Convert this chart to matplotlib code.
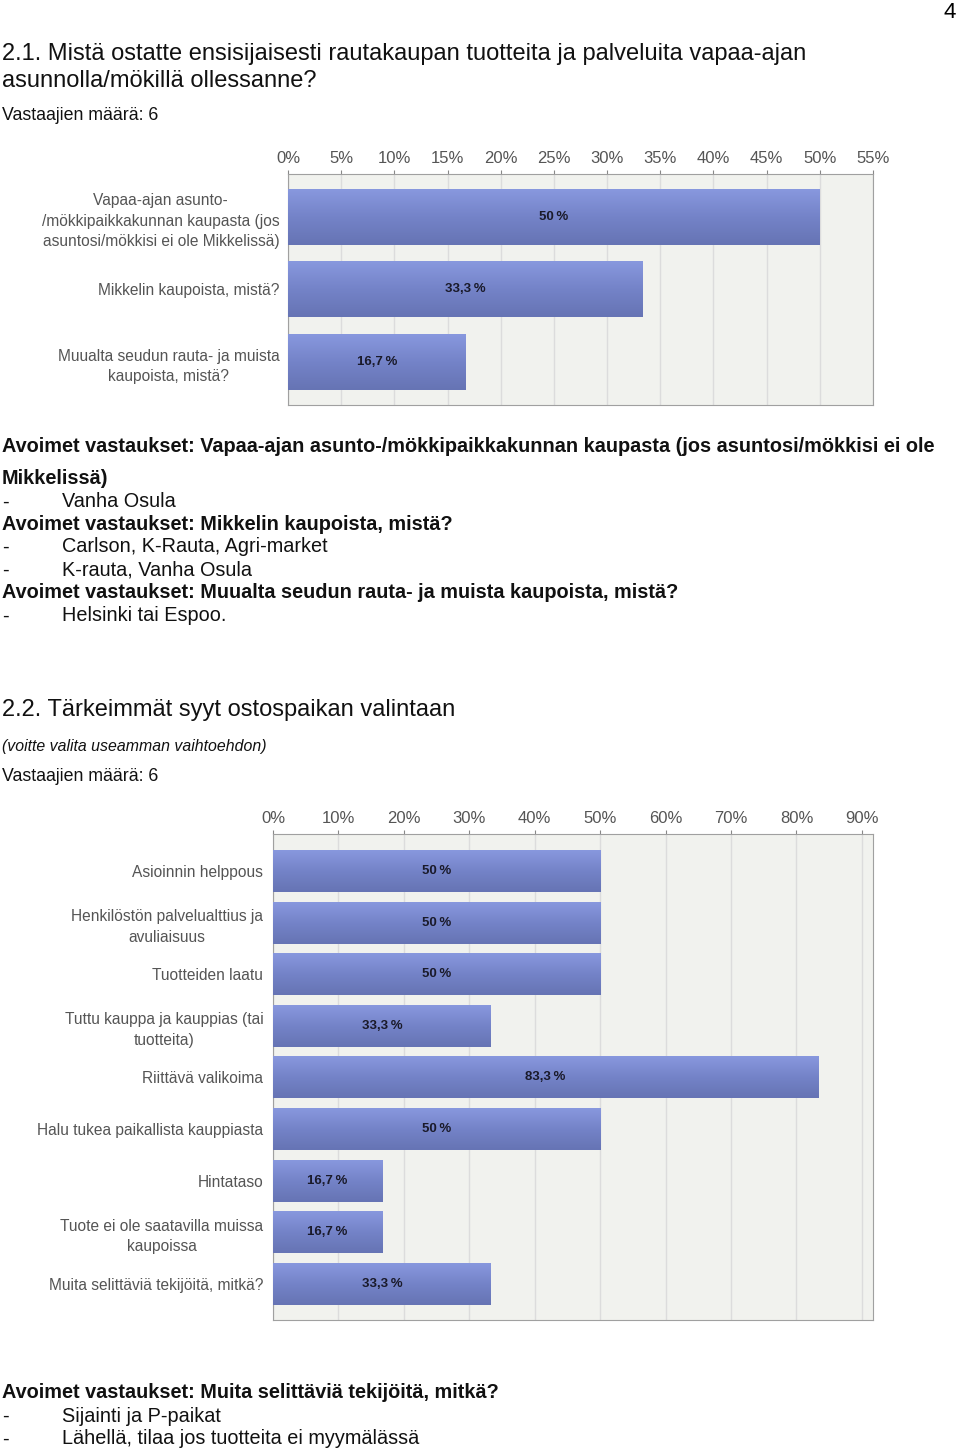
import matplotlib
matplotlib.use("Agg")
import matplotlib.pyplot as plt
import numpy as np
from matplotlib.colors import LinearSegmentedColormap

plt.rcParams['font.family'] = ['Liberation Sans', 'DejaVu Sans']

# Datos
kat1 = ["Vapaa-ajan asunto-\n/mökkipaikkakunnan kaupasta (jos\nasuntosi/mökkisi ei ole Mikkelissä)",
        "Mikkelin kaupoista, mistä?",
        "Muualta seudun rauta- ja muista\nkaupoista, mistä?"]
arvot1 = [50, 33.3, 16.7]
ticks1 = [0, 5, 10, 15, 20, 25, 30, 35, 40, 45, 50, 55]

kat2 = ["Asioinnin helppous",
        "Henkilöstön palvelualttius ja\navuliaisuus",
        "Tuotteiden laatu",
        "Tuttu kauppa ja kauppias (tai\ntuotteita)",
        "Riittävä valikoima",
        "Halu tukea paikallista kauppiasta",
        "Hintataso",
        "Tuote ei ole saatavilla muissa\nkaupoissa",
        "Muita selittäviä tekijöitä, mitkä?"]
arvot2 = [50, 50, 50, 33.3, 83.3, 50, 16.7, 16.7, 33.3]
ticks2 = [0, 10, 20, 30, 40, 50, 60, 70, 80, 90]

W, H = 960, 1451
fig = plt.figure(figsize=(W / 100, H / 100), dpi=100)

cmap = LinearSegmentedColormap.from_list("palkki", ["#8898de", "#7483c8", "#6674b4"])
grad = np.linspace(0, 1, 64).reshape(-1, 1)


def teksti(x, y, s, **kw):
    fig.text(x / W, 1 - y / H, s, va='center', ha='left', color='#111111', **kw)


def kaavio(rect, kategoriat, arvot, ticks, xmax, ylim, korkeus, pad):
    ax = fig.add_axes(rect)
    ax.set_facecolor('#f1f2ee')
    y = np.arange(len(kategoriat))
    palkit = ax.barh(y, arvot, height=korkeus, color='#7886cc', zorder=2)
    for p in palkit:
        x0, y0, w, h = p.get_x(), p.get_y(), p.get_width(), p.get_height()
        ax.imshow(grad, extent=(x0, x0 + w, y0 + h, y0), aspect='auto',
                  cmap=cmap, zorder=3, interpolation='bicubic')
    for yi, v in zip(y, arvot):
        s = f"{v:g}".replace('.', ',') + "\u2009%"
        ax.text(v / 2, yi, s, ha='center', va='center', fontsize=9.5,
                color='#1a1a2a', zorder=4, fontweight='bold')
    ax.set_xlim(0, xmax)
    ax.set_ylim(*ylim)
    ax.set_xticks(ticks)
    ax.set_xticklabels([f"{t}%" for t in ticks])
    ax.xaxis.tick_top()
    ax.tick_params(axis='x', colors='#888888', labelcolor='#555555',
                   labelsize=12, length=3, pad=3)
    ax.set_yticks(y)
    ax.set_yticklabels(kategoriat, fontsize=11.2, color='#555555', linespacing=1.45)
    for lbl in ax.get_yticklabels():
        lbl.set_multialignment('center')
    ax.tick_params(axis='y', length=0, pad=pad)
    ax.grid(axis='x', color='#dcdcdc', linewidth=1, zorder=1)
    ax.set_axisbelow(True)
    for sp in ax.spines.values():
        sp.set_color('#a0a0a0')
    return ax


# Kaavio 1
kaavio([288 / W, 1 - 405 / H, 585 / W, 231 / H], kat1, arvot1, ticks1, 55,
       (2.593, -0.593), 0.76, 6)

# Kaavio 2
kaavio([273 / W, 1 - 1320 / H, 600 / W, 486 / H], kat2, arvot2, ticks2, 91.7,
       (8.70, -0.717), 0.81, 7)

# Tekstit
fig.text(950 / W, 1 - 12 / H, "4", fontsize=16, va='center', ha='center')
teksti(2, 54, "2.1. Mistä ostatte ensisijaisesti rautakaupan tuotteita ja palveluita vapaa-ajan", fontsize=17)
teksti(2, 81, "asunnolla/mökillä ollessanne?", fontsize=17)
teksti(2, 116, "Vastaajien määrä: 6", fontsize=12.8)

teksti(2, 447, "Avoimet vastaukset: Vapaa-ajan asunto-/mökkipaikkakunnan kaupasta (jos asuntosi/mökkisi ei ole",
       fontsize=14.3, fontweight='bold')
teksti(2, 479, "Mikkelissä)", fontsize=14.3, fontweight='bold')
teksti(2, 502, "-", fontsize=14.3)
teksti(62, 502, "Vanha Osula", fontsize=14.3)
teksti(2, 525, "Avoimet vastaukset: Mikkelin kaupoista, mistä?", fontsize=14.3, fontweight='bold')
teksti(2, 547, "-", fontsize=14.3)
teksti(62, 547, "Carlson, K-Rauta, Agri-market", fontsize=14.3)
teksti(2, 570, "-", fontsize=14.3)
teksti(62, 570, "K-rauta, Vanha Osula", fontsize=14.3)
teksti(2, 593, "Avoimet vastaukset: Muualta seudun rauta- ja muista kaupoista, mistä?", fontsize=14.3, fontweight='bold')
teksti(2, 616, "-", fontsize=14.3)
teksti(62, 616, "Helsinki tai Espoo.", fontsize=14.3)

teksti(2, 710, "2.2. Tärkeimmät syyt ostospaikan valintaan", fontsize=17)
teksti(2, 746, "(voitte valita useamman vaihtoehdon)", fontsize=11.4, style='italic')
teksti(2, 776, "Vastaajien määrä: 6", fontsize=12.8)

teksti(2, 1393, "Avoimet vastaukset: Muita selittäviä tekijöitä, mitkä?", fontsize=14.3, fontweight='bold')
teksti(2, 1416, "-", fontsize=14.3)
teksti(62, 1416, "Sijainti ja P-paikat", fontsize=14.3)
teksti(2, 1439, "-", fontsize=14.3)
teksti(62, 1439, "Lähellä, tilaa jos tuotteita ei myymälässä", fontsize=14.3)

plt.savefig("out.png", dpi=100)
